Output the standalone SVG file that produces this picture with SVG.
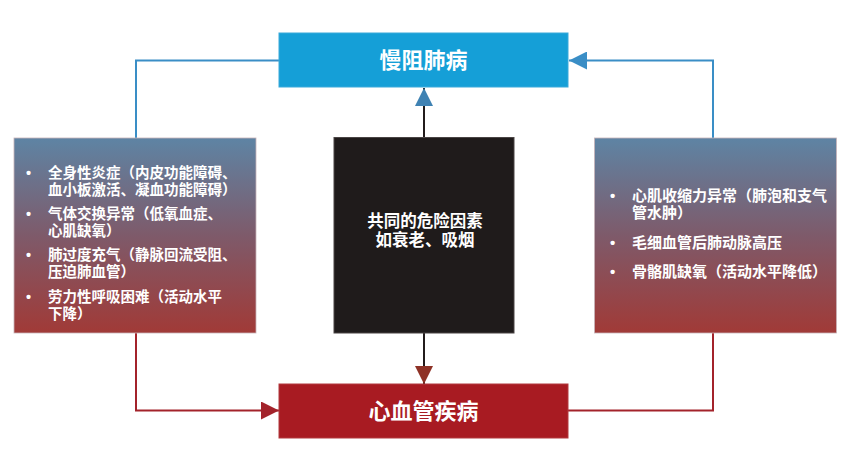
<svg xmlns="http://www.w3.org/2000/svg" width="856" height="475" viewBox="0 0 856 475">
<defs>
<linearGradient id="sideGrad" x1="0" y1="0" x2="0" y2="1">
<stop offset="0" stop-color="#5e84a4"/>
<stop offset="0.5" stop-color="#7e5a6a"/>
<stop offset="1" stop-color="#a13a37"/>
</linearGradient>
<marker id="arrBlue" viewBox="0 0 10 10" refX="10" refY="5" markerWidth="18" markerHeight="18" markerUnits="userSpaceOnUse" orient="auto">
<path d="M0,0 L10,5 L0,10 Z" fill="#3a8ec6"/>
</marker>
<marker id="arrBlueMid" viewBox="0 0 10 10" refX="10" refY="5" markerWidth="18" markerHeight="19" markerUnits="userSpaceOnUse" orient="auto">
<path d="M0,0 L10,5 L0,10 Z" fill="#3f82b3"/>
</marker>
<marker id="arrRed" viewBox="0 0 10 10" refX="10" refY="5" markerWidth="18" markerHeight="18" markerUnits="userSpaceOnUse" orient="auto">
<path d="M0,0 L10,5 L0,10 Z" fill="#a3232b"/>
</marker>
<marker id="arrRedMid" viewBox="0 0 10 10" refX="10" refY="5" markerWidth="18" markerHeight="19" markerUnits="userSpaceOnUse" orient="auto">
<path d="M0,0 L10,5 L0,10 Z" fill="#8e3226"/>
</marker>
</defs>
<style>
text { font-family: "Liberation Sans", "Noto Sans CJK SC", sans-serif; fill: #ffffff; font-weight: bold; }
.title { font-size: 22px; text-anchor: middle; dominant-baseline: central; }
.center { font-size: 16.5px; text-anchor: middle; dominant-baseline: central; }
.item { font-size: 14.5px; dominant-baseline: central; }
.itemR { font-size: 15px; dominant-baseline: central; }
.blue { stroke: #3a8ec6; stroke-width: 2; fill: none; }
.red { stroke: #a3232b; stroke-width: 2; fill: none; }
.dark { stroke: #231c1c; stroke-width: 2; fill: none; }
</style>
<rect width="856" height="475" fill="#ffffff"/>

<g id="connectors">
<polyline class="blue" points="136,138 136,60.5 279,60.5"/>
<polyline class="blue" points="713,138 713,60.5 569,60.5" marker-end="url(#arrBlue)"/>
<line class="dark" x1="424" y1="138" x2="424" y2="88" marker-end="url(#arrBlueMid)"/>
<polyline class="red" points="136,333 136,410.5 279,410.5" marker-end="url(#arrRed)"/>
<polyline class="red" points="713,333 713,410.5 568,410.5"/>
<line class="dark" x1="424" y1="333" x2="424" y2="384" marker-end="url(#arrRedMid)"/>
</g>

<g id="copd">
<rect x="279" y="33" width="289" height="54" fill="#159fd7" stroke="#3aa9da" stroke-width="1"/>
<text class="title" x="423.5" y="60">慢阻肺病</text>
</g>

<g id="cvd">
<rect x="279" y="384" width="289" height="54" fill="#a81b22" stroke="#b23a3e" stroke-width="1"/>
<text class="title" x="423.5" y="411">心血管疾病</text>
</g>

<g id="risk">
<rect x="334" y="137.5" width="180" height="195.5" fill="#1f1b1b" stroke="#4a4444" stroke-width="1"/>
<text class="center" x="425" y="220.5">共同的危险因素<tspan x="425" dy="19.5">如衰老、吸烟</tspan></text>
</g>

<g id="left">
<rect x="14" y="138" width="242" height="195" fill="url(#sideGrad)" stroke="#c7b3b8" stroke-width="0.8"/>
<text class="item" x="26" y="172.5">•</text>
<text class="item" x="48" y="172.5">全身性炎症（内皮功能障碍、<tspan x="48" dy="17">血小板激活、凝血功能障碍）</tspan></text>
<text class="item" x="26" y="213.5">•</text>
<text class="item" x="48" y="213.5">气体交换异常（低氧血症、<tspan x="48" dy="17.5">心肌缺氧）</tspan></text>
<text class="item" x="26" y="255">•</text>
<text class="item" x="48" y="255">肺过度充气（静脉回流受阻、<tspan x="48" dy="17">压迫肺血管）</tspan></text>
<text class="item" x="26" y="296.5">•</text>
<text class="item" x="48" y="296.5">劳力性呼吸困难（活动水平<tspan x="48" dy="17.5">下降）</tspan></text>
</g>

<g id="right">
<rect x="594.5" y="138" width="242" height="195" fill="url(#sideGrad)" stroke="#c7b3b8" stroke-width="0.8"/>
<text class="itemR" x="610" y="195">•</text>
<text class="itemR" x="632" y="195">心肌收缩力异常（肺泡和支气<tspan x="632" dy="17">管水肿）</tspan></text>
<text class="itemR" x="610" y="242.5">•</text>
<text class="itemR" x="632" y="242.5">毛细血管后肺动脉高压</text>
<text class="itemR" x="610" y="271.5">•</text>
<text class="itemR" x="632" y="271.5">骨骼肌缺氧（活动水平降低）</text>
</g>
</svg>
